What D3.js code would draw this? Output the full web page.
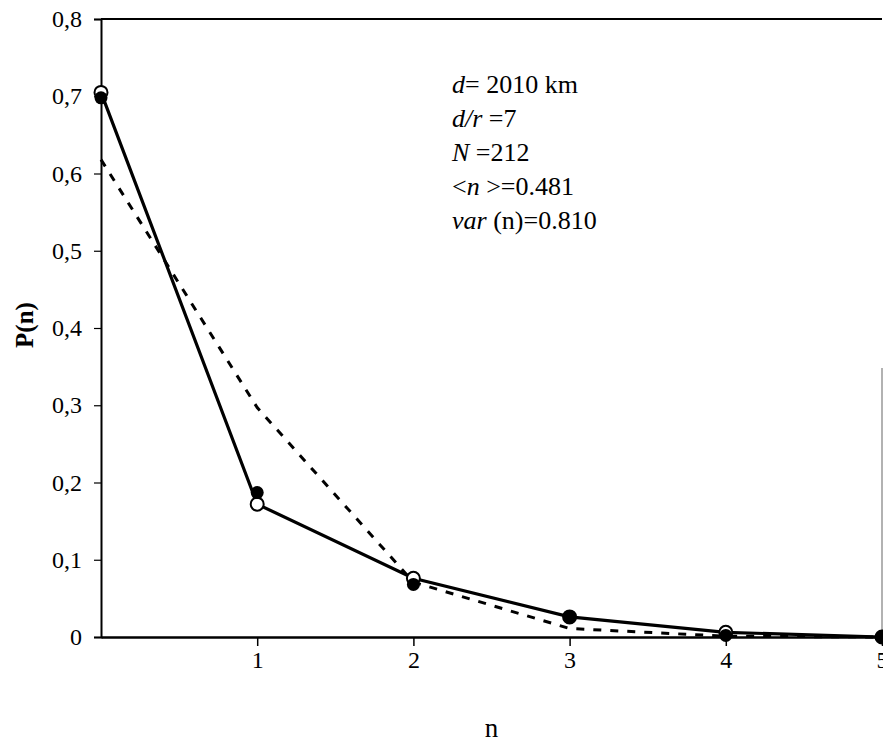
<!DOCTYPE html>
<html>
<head>
<meta charset="utf-8">
<script src="https://cdn.jsdelivr.net/npm/d3@7"></script>
<style>
  body { margin: 0; background: #fff; }
  svg text { font-family: "Liberation Serif", "Times New Roman", serif; fill: #000; }
</style>
</head>
<body>
<div id="chart"></div>
<script>
// Values
const nValues = [0, 1, 2, 3, 4, 5];
const openSeries = [0.705, 0.172, 0.076, 0.026, 0.006, 0.000];   // open circles, solid line
const filledSeries = [0.698, 0.187, 0.068, 0.026, 0.002, 0.000]; // filled circles
const dashedSeries = [0.618, 0.297, 0.071, 0.011, 0.001, 0.000]; // dashed curve
const yTicks = [0, 0.1, 0.2, 0.3, 0.4, 0.5, 0.6, 0.7, 0.8];
const xTicks = [1, 2, 3, 4, 5];
const notes = [
    [["d", true], ["= 2010 km", false]],
    [["d/r", true], [" =7", false]],
    [["N", true], [" =212", false]],
    [["<", false], ["n", true], [" >=0.481", false]],
    [["var", true], [" (n)=0.810", false]]
];

const width = 883, height = 744;
const plotLeft = 101, plotRight = 882, plotTop = 19, plotBottom = 637;

const svg = d3.select("#chart").append("svg")
    .attr("width", width)
    .attr("height", height);

const x = d3.scaleLinear().domain([0, 5]).range([plotLeft, plotRight]);
const y = d3.scaleLinear().domain([0, 0.8]).range([plotBottom, plotTop]);

// frame: top border and partial right border
svg.append("line")
    .attr("x1", plotLeft).attr("x2", plotRight)
    .attr("y1", plotTop).attr("y2", plotTop)
    .attr("stroke", "#000").attr("stroke-width", 2);
svg.append("line")
    .attr("x1", plotRight).attr("x2", plotRight)
    .attr("y1", 368).attr("y2", plotBottom)
    .attr("stroke", "#999").attr("stroke-width", 1.5);

// y axis
const yAxis = svg.append("g")
    .attr("transform", `translate(${plotLeft},0)`)
    .call(d3.axisLeft(y).tickValues(yTicks).tickSize(7).tickPadding(12)
        .tickFormat(d => d === 0 ? "0" : d3.format(".1f")(d).replace(".", ",")));
yAxis.select(".domain").attr("stroke-width", 2);
yAxis.selectAll(".tick line").attr("stroke-width", 1.2);
yAxis.selectAll("text").attr("font-size", 24);

// x axis
const xAxis = svg.append("g")
    .attr("transform", `translate(0,${plotBottom})`)
    .call(d3.axisBottom(x).tickValues(xTicks).tickSize(9).tickPadding(5)
        .tickSizeOuter(0).tickFormat(d3.format("d")));
xAxis.select(".domain").attr("stroke-width", 2.5);
xAxis.selectAll(".tick line").attr("stroke-width", 1.5);
xAxis.selectAll("text").attr("font-size", 24);

// axis titles
svg.append("text")
    .attr("transform", "translate(33,325) rotate(-90)")
    .attr("text-anchor", "middle")
    .attr("font-size", 25)
    .attr("font-weight", "bold")
    .text("P(n)");
svg.append("text")
    .attr("x", (plotLeft + plotRight) / 2)
    .attr("y", 737)
    .attr("text-anchor", "middle")
    .attr("font-size", 27)
    .text("n");

// dashed curve
const line = d3.line().x((d, i) => x(nValues[i])).y(d => y(d));
svg.append("path")
    .datum(dashedSeries)
    .attr("d", line)
    .attr("fill", "none")
    .attr("stroke", "#000")
    .attr("stroke-width", 3)
    .attr("stroke-dasharray", "8,9");

// solid curve through open circles
svg.append("path")
    .datum(openSeries)
    .attr("d", line)
    .attr("fill", "none")
    .attr("stroke", "#000")
    .attr("stroke-width", 3.2);

// open circles
svg.selectAll(".open")
    .data(openSeries)
    .enter().append("circle")
    .attr("class", "open")
    .attr("cx", (d, i) => x(nValues[i]))
    .attr("cy", d => y(d))
    .attr("r", 6.5)
    .attr("fill", "#fff")
    .attr("stroke", "#000")
    .attr("stroke-width", 2);

// filled circles
svg.selectAll(".filled")
    .data(filledSeries)
    .enter().append("circle")
    .attr("class", "filled")
    .attr("cx", (d, i) => x(nValues[i]))
    .attr("cy", d => y(d))
    .attr("r", 6.5)
    .attr("fill", "#000");

// annotation block
const note = svg.append("g").attr("transform", "translate(452,93)");
notes.forEach((parts, i) => {
    const t = note.append("text")
        .attr("x", 0)
        .attr("y", i * 34)
        .attr("font-size", 26);
    parts.forEach(([s, ital]) => {
        t.append("tspan")
            .attr("font-style", ital ? "italic" : "normal")
            .text(s);
    });
});
</script>
</body>
</html>
